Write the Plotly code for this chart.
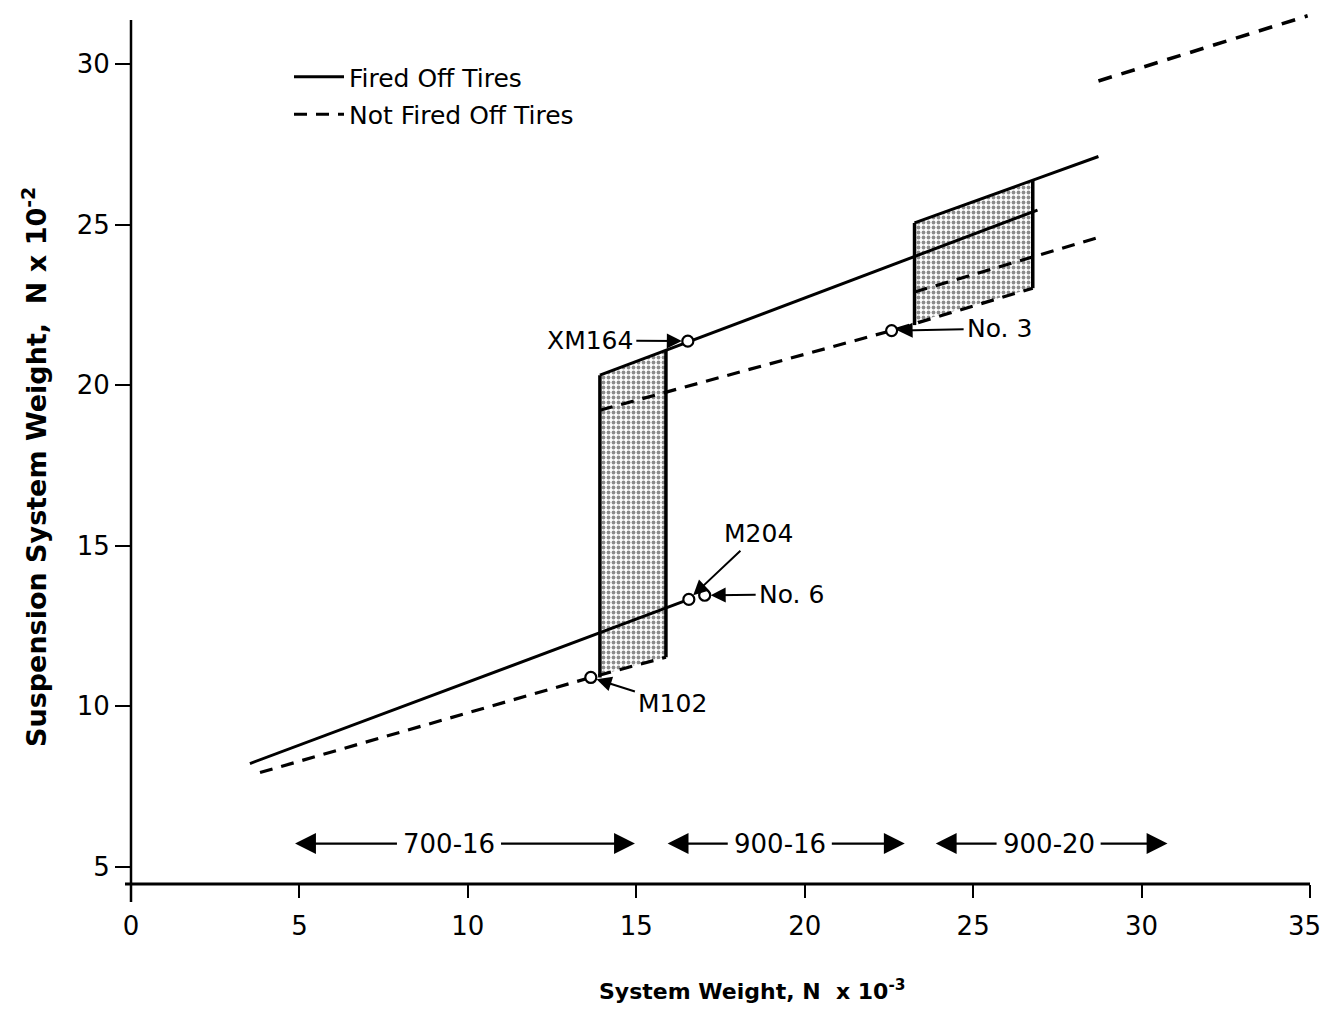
import plotly.graph_objects as go

# ---- data (system weight in N x 10^-3, suspension weight in N x 10^-2) ----
lower_fired_x = [3.53, 16.56]
lower_fired_y = [8.22, 13.33]
lower_notfired_x = [3.83, 13.65, 15.88]
lower_notfired_y = [7.94, 10.90, 11.53]
upper_fired_x = [13.92, 26.91]
upper_fired_y = [20.31, 25.45]
upper_notfired_x = [13.92, 22.58, 26.77]
upper_notfired_y = [19.22, 21.70, 23.02]
band_fired_x = [23.26, 28.72]
band_fired_y = [25.05, 27.12]
band_notfired_x = [23.26, 28.72]
band_notfired_y = [22.90, 24.60]
heavy_notfired_x = [28.72, 34.93]
heavy_notfired_y = [29.47, 31.50]

region_a_x = [13.92, 15.88, 15.88, 13.92]
region_a_y = [20.31, 21.09, 11.53, 10.98]
region_b_x = [23.26, 26.77, 26.77, 23.26]
region_b_y = [25.05, 26.38, 23.02, 21.95]

vehicle_names = ["XM164", "No. 3", "M204", "No. 6", "M102"]
vehicle_x = [16.53, 22.58, 16.56, 17.03, 13.65]
vehicle_y = [21.37, 21.70, 13.33, 13.46, 10.90]
label_dx = [-98, 108, 70, 87, 82]
label_dy = [-1, -2, -66, -1, 26]

tire_labels = ["700-16", "900-16", "900-20"]
tire_start = [4.87, 15.93, 23.89]
tire_end = [14.96, 22.97, 30.77]
tire_mid = [9.44, 19.26, 27.24]
tire_row = 5.73

x_ticks = [0, 5, 10, 15, 20, 25, 30, 35]
y_ticks = [5, 10, 15, 20, 25, 30]

FONT = "DejaVu Sans"
INK = "#000000"
W, H = 1324, 1009
ML, MR, MT, MB = 131, 14, 10, 125
X_RANGE = [0, 35]
Y_RANGE = [4.47, 31.68]
plot_w = W - ML - MR
plot_h = H - MT - MB


def xpaper(px):
    return (px - ML) / plot_w


def ypaper_px(py):
    return (H - MB - py) / plot_h


def ypaper(v):
    return (v - Y_RANGE[0]) / (Y_RANGE[1] - Y_RANGE[0])


fig = go.Figure()

# stippled bands
stipple = dict(shape=".", fgcolor="#1a1a1a", bgcolor="#ffffff", size=5, solidity=0.45)
for rx, ry in [(region_a_x, region_a_y), (region_b_x, region_b_y)]:
    fig.add_trace(go.Scatter(x=rx, y=ry, fill="toself", fillpattern=stipple,
                             fillcolor="rgba(0,0,0,0)", mode="lines",
                             line=dict(width=0, color="rgba(0,0,0,0)"),
                             showlegend=False, hoverinfo="skip"))

# band side edges
for rx, ry in [(region_a_x, region_a_y), (region_b_x, region_b_y)]:
    fig.add_trace(go.Scatter(x=[rx[0], rx[3]], y=[ry[0], ry[3] - 0.08], mode="lines",
                             line=dict(color=INK, width=3.5), showlegend=False, hoverinfo="skip"))
    fig.add_trace(go.Scatter(x=[rx[1], rx[2]], y=[ry[1], ry[2]], mode="lines",
                             line=dict(color=INK, width=3.5), showlegend=False, hoverinfo="skip"))

solid = dict(color=INK, width=3)
dashed = dict(color=INK, width=3.2, dash="13px,9px")

fig.add_trace(go.Scatter(x=lower_fired_x, y=lower_fired_y, mode="lines", line=solid,
                         name="Fired Off Tires", legendgroup="fired", showlegend=True,
                         hoverinfo="skip"))
fig.add_trace(go.Scatter(x=lower_notfired_x, y=lower_notfired_y, mode="lines", line=dashed,
                         name="Not Fired Off Tires", legendgroup="notfired", showlegend=True,
                         hoverinfo="skip"))
fig.add_trace(go.Scatter(x=upper_fired_x, y=upper_fired_y, mode="lines", line=solid,
                         showlegend=False, hoverinfo="skip"))
fig.add_trace(go.Scatter(x=upper_notfired_x, y=upper_notfired_y, mode="lines", line=dashed,
                         showlegend=False, hoverinfo="skip"))
fig.add_trace(go.Scatter(x=band_fired_x, y=band_fired_y, mode="lines", line=solid,
                         showlegend=False, hoverinfo="skip"))
fig.add_trace(go.Scatter(x=band_notfired_x, y=band_notfired_y, mode="lines", line=dashed,
                         showlegend=False, hoverinfo="skip"))
fig.add_trace(go.Scatter(x=heavy_notfired_x, y=heavy_notfired_y, mode="lines",
                         line=dict(color=INK, width=3.6, dash="14px,10px"),
                         showlegend=False, hoverinfo="skip"))

# vehicles
fig.add_trace(go.Scatter(x=vehicle_x, y=vehicle_y, mode="markers",
                         marker=dict(symbol="circle", size=11, color="white",
                                     line=dict(color=INK, width=2.2)),
                         text=vehicle_names, showlegend=False, hoverinfo="text"))

annotations = []
for name, vx, vy, dx, dy in zip(vehicle_names, vehicle_x, vehicle_y, label_dx, label_dy):
    annotations.append(dict(x=vx, y=vy, xref="x", yref="y", text=name, showarrow=True,
                            ax=dx, ay=dy, arrowhead=2, arrowsize=1.5, arrowwidth=2,
                            arrowcolor=INK, standoff=6, startstandoff=2,
                            font=dict(family=FONT, size=25, color=INK)))

# tire size ranges along the bottom
half_text = 1.5
for lab, s, e, m in zip(tire_labels, tire_start, tire_end, tire_mid):
    annotations.append(dict(x=m, y=tire_row, xref="x", yref="y", text=lab, showarrow=False,
                            font=dict(family=FONT, size=26, color=INK)))
    for tip, tail in [(s, m - half_text), (e, m + half_text)]:
        annotations.append(dict(x=tip, y=tire_row, xref="x", yref="y", text="",
                                showarrow=True, ax=tail, ay=tire_row, axref="x", ayref="y",
                                arrowhead=2, arrowsize=1.9, arrowwidth=2.2, arrowcolor=INK))

# last x tick label, nudged inside the page edge
annotations.append(dict(x=x_ticks[-1], y=ypaper_px(926), xref="x", yref="paper",
                        text=str(x_ticks[-1]), showarrow=False, xanchor="center",
                        yanchor="middle", xshift=-6,
                        font=dict(family=FONT, size=26, color=INK)))

# axis titles
annotations.append(dict(x=xpaper(752), y=ypaper_px(990), xref="paper", yref="paper",
                        text="<b>System Weight, N  x 10<sup>-3</sup></b>", showarrow=False,
                        xanchor="center", yanchor="middle",
                        font=dict(family=FONT, size=22, color=INK)))
annotations.append(dict(x=xpaper(35), y=ypaper_px(467), xref="paper", yref="paper",
                        text="<b>Suspension System Weight,  N x 10<sup>-2</sup></b>",
                        showarrow=False, textangle=-90, xanchor="center", yanchor="middle",
                        font=dict(family=FONT, size=27, color=INK)))

shapes = [
    # x axis line
    dict(type="line", xref="paper", yref="paper", x0=-6 / plot_w, x1=1.0,
         y0=0, y1=0, line=dict(color=INK, width=3)),
    # y axis line
    dict(type="line", xref="paper", yref="paper", x0=0, x1=0,
         y0=-18 / plot_h, y1=ypaper(31.37), line=dict(color=INK, width=2.5)),
]

x_ticktext = [str(t) for t in x_ticks[:-1]] + [""]

fig.update_layout(
    width=W, height=H,
    margin=dict(l=ML, r=MR, t=MT, b=MB, pad=0, autoexpand=False),
    paper_bgcolor="white", plot_bgcolor="white",
    font=dict(family=FONT, color=INK),
    showlegend=True,
    legend=dict(x=xpaper(289), y=ypaper_px(54), xanchor="left", yanchor="top",
                bgcolor="rgba(0,0,0,0)", font=dict(family=FONT, size=25, color=INK),
                itemwidth=50, tracegroupgap=2),
    xaxis=dict(range=X_RANGE, tickvals=x_ticks, ticktext=x_ticktext,
               ticks="outside", ticklen=13, tickwidth=2, tickcolor=INK,
               showgrid=False, zeroline=False, showline=False, automargin=False,
               tickfont=dict(family=FONT, size=26, color=INK), ticklabelstandoff=6),
    yaxis=dict(range=Y_RANGE, tickvals=y_ticks, ticktext=[str(t) for t in y_ticks],
               ticks="outside", ticklen=15, tickwidth=2, tickcolor=INK,
               showgrid=False, zeroline=False, showline=False, automargin=False,
               tickfont=dict(family=FONT, size=26, color=INK), ticklabelstandoff=0),
    annotations=annotations,
    shapes=shapes,
)

fig.write_html("out.html")
